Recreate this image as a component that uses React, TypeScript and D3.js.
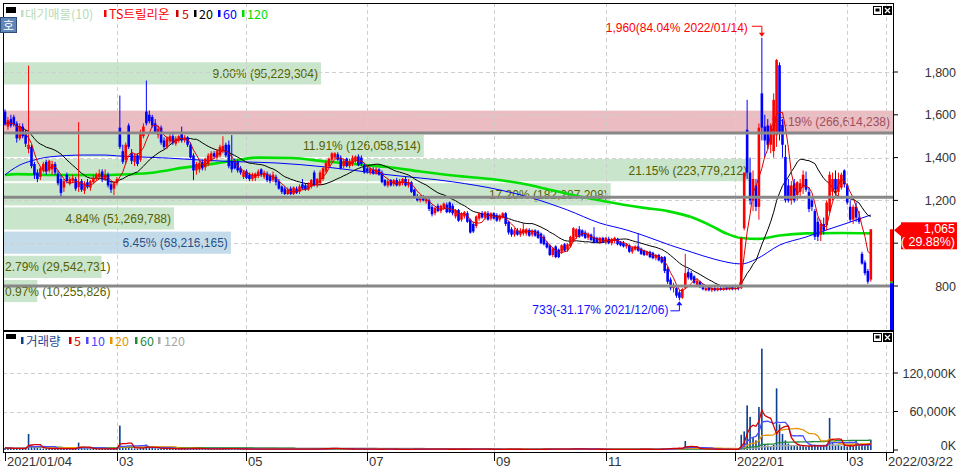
import React from "react";
import * as d3 from "d3";

// [open, high, low, close] per trading day, 2021/01/04 .. 2022/03
const ohlc: [number, number, number, number][] = [
[1615,1625,1550,1555],[1545,1590,1530,1575],[1580,1600,1540,1550],[1590,1600,1545,1555],[1560,1570,1470,1490],
[1490,1560,1480,1545],[1545,1560,1490,1500],[1510,1530,1450,1465],[1440,1830,1420,1460],[1450,1460,1350,1360],
[1370,1380,1300,1320],[1330,1345,1285,1300],[1310,1360,1295,1350],[1340,1380,1330,1370],[1380,1390,1320,1335],
[1340,1390,1330,1385],[1345,1385,1320,1370],[1370,1380,1320,1330],[1325,1340,1270,1280],[1300,1320,1220,1235],
[1260,1300,1240,1290],[1320,1330,1280,1290],[1280,1310,1270,1300],[1290,1320,1280,1305],[1300,1310,1245,1255],
[1262,1566,1240,1285],[1290,1300,1240,1250],[1245,1290,1230,1280],[1285,1300,1255,1262],[1260,1295,1245,1290],
[1285,1320,1280,1305],[1300,1330,1290,1320],[1310,1345,1300,1325],[1335,1345,1285,1300],[1300,1345,1290,1320],
[1320,1330,1260,1270],[1275,1290,1235,1250],[1255,1290,1225,1280],[1280,1310,1270,1300],[1540,1690,1440,1450],
[1430,1460,1370,1380],[1390,1470,1370,1460],[1550,1560,1440,1450],[1420,1440,1370,1385],[1380,1420,1360,1410],
[1410,1420,1360,1370],[1390,1530,1380,1520],[1500,1560,1490,1545],[1615,1760,1550,1560],[1600,1620,1560,1570],
[1590,1600,1540,1550],[1560,1580,1510,1520],[1505,1550,1490,1535],[1540,1550,1460,1470],[1480,1495,1440,1450],
[1450,1500,1440,1490],[1475,1510,1465,1500],[1500,1520,1460,1470],[1465,1500,1455,1490],[1480,1505,1470,1500],
[1520,1545,1470,1480],[1480,1505,1470,1495],[1495,1500,1450,1460],[1460,1470,1395,1400],[1410,1420,1295,1340],
[1340,1380,1320,1370],[1345,1390,1330,1375],[1380,1390,1340,1350],[1355,1400,1340,1395],[1370,1420,1360,1410],
[1390,1430,1380,1420],[1420,1430,1395,1405],[1400,1440,1390,1430],[1410,1460,1400,1450],[1430,1500,1420,1455],
[1460,1470,1400,1410],[1460,1480,1350,1360],[1380,1505,1330,1345],[1385,1395,1345,1350],[1380,1390,1330,1340],
[1350,1360,1320,1330],[1310,1340,1300,1335],[1335,1345,1300,1305],[1320,1330,1290,1300],[1300,1330,1290,1320],
[1305,1330,1290,1325],[1315,1345,1305,1335],[1345,1350,1310,1320],[1310,1340,1300,1330],[1325,1335,1285,1295],
[1315,1325,1280,1290],[1295,1335,1285,1320],[1310,1320,1270,1285],[1290,1300,1250,1255],[1265,1270,1230,1240],
[1255,1265,1225,1230],[1230,1260,1225,1250],[1255,1265,1225,1230],[1230,1265,1225,1260],[1255,1265,1230,1235],
[1240,1275,1230,1265],[1275,1300,1250,1255],[1270,1280,1245,1250],[1250,1285,1245,1275],[1265,1300,1255,1295],
[1330,1340,1265,1275],[1270,1305,1260,1300],[1280,1340,1270,1330],[1300,1355,1290,1350],[1335,1385,1325,1375],
[1360,1400,1350,1395],[1390,1425,1380,1420],[1400,1425,1395,1420],[1415,1425,1385,1390],[1400,1410,1345,1350],
[1360,1395,1350,1385],[1395,1400,1355,1360],[1360,1395,1350,1385],[1370,1410,1360,1400],[1385,1410,1375,1405],
[1405,1415,1360,1365],[1400,1410,1360,1370],[1365,1375,1325,1330],[1350,1360,1325,1335],[1330,1355,1320,1350],
[1345,1355,1320,1325],[1325,1355,1320,1345],[1345,1350,1315,1320],[1330,1340,1280,1285],[1295,1300,1265,1270],
[1270,1300,1260,1290],[1295,1300,1265,1270],[1275,1300,1265,1295],[1295,1305,1265,1270],[1270,1300,1265,1290],
[1280,1305,1270,1300],[1300,1310,1265,1270],[1270,1300,1260,1285],[1285,1290,1235,1240],[1250,1255,1210,1215],
[1220,1230,1195,1200],[1200,1225,1190,1215],[1215,1225,1195,1200],[1195,1215,1185,1205],[1200,1210,1150,1160],
[1170,1180,1125,1135],[1140,1170,1130,1165],[1175,1185,1145,1150],[1150,1180,1140,1175],[1160,1190,1155,1185],
[1180,1190,1140,1145],[1190,1195,1140,1145],[1175,1185,1130,1140],[1125,1160,1115,1155],[1155,1160,1100,1105],
[1110,1145,1100,1140],[1125,1150,1115,1145],[1140,1150,1095,1100],[1110,1115,1045,1050],[1090,1100,1048,1055],
[1080,1130,1070,1125],[1115,1145,1105,1140],[1140,1150,1115,1120],[1120,1150,1110,1145],[1140,1150,1105,1110],
[1115,1145,1105,1140],[1140,1145,1110,1115],[1130,1140,1100,1105],[1110,1135,1100,1130],[1120,1145,1115,1140],
[1140,1145,1080,1090],[1100,1105,1040,1050],[1065,1075,1030,1040],[1040,1070,1030,1060],[1060,1070,1035,1040],
[1040,1070,1030,1060],[1045,1095,1035,1065],[1045,1070,1035,1065],[1062,1070,1030,1035],[1040,1065,1030,1060],
[1060,1065,1030,1035],[1055,1062,1020,1025],[1045,1050,995,1000],[1030,1040,990,995],[1000,1010,975,980],
[990,995,940,945],[945,980,935,975],[985,990,930,935],[970,975,930,935],[960,995,950,990],
[995,1000,960,965],[970,1000,960,995],[985,1035,980,1030],[1010,1075,1005,1070],[1030,1070,1020,1065],
[1065,1080,1025,1030],[1060,1065,1030,1035],[1050,1060,1020,1025],[1025,1050,1015,1045],[1040,1045,1010,1015],
[1030,1075,1000,1005],[1025,1030,1000,1005],[1005,1030,995,1025],[1025,1030,1000,1005],[1005,1030,995,1025],
[1020,1030,995,1000],[1000,1025,990,1020],[1010,1030,1000,1025],[1020,1025,990,995],[1005,1010,985,990],
[1000,1010,980,985],[985,1000,975,995],[990,995,955,960],[960,985,950,980],[970,990,965,985],
[985,1045,960,965],[975,980,945,950],[965,970,940,945],[945,965,940,960],[960,965,930,935],
[955,960,925,930],[930,950,920,945],[945,950,915,920],[935,940,905,910],[935,940,860,870],
[880,890,810,820],[830,840,780,790],[790,815,770,800],[790,800,745,755],[770,780,733,745],
[745,790,740,785],[790,950,785,860],[865,880,830,840],[860,870,825,830],[845,850,810,815],
[805,835,800,825],[820,825,790,795],[800,810,780,785],[780,800,775,790],[795,800,775,780],
[780,795,772,790],[790,795,775,780],[780,795,775,790],[790,795,778,782],[782,795,778,790],
[792,798,780,785],[785,800,780,792],[795,805,780,785],[785,800,780,790],[795,800,780,788],
[790,1030,785,1024],[1070,1330,1060,1330],[1530,1670,1300,1330],[1330,1400,1180,1200],[1200,1340,1150,1300],
[1270,1300,1150,1170],[1170,1560,1110,1540],[1700,1960,1480,1540],[1545,1600,1400,1480],[1550,1580,1440,1460],
[1460,1560,1420,1550],[1430,1700,1400,1670],[1505,1860,1450,1856],[1832,1845,1480,1520],[1552,1580,1400,1460],
[1403,1460,1190,1200],[1270,1300,1190,1200],[1200,1290,1180,1270],[1280,1300,1190,1200],[1225,1290,1200,1285],
[1240,1300,1220,1280],[1260,1340,1230,1320],[1300,1335,1240,1250],[1240,1260,1145,1160],[1200,1220,1150,1170],
[1150,1160,1015,1030],[1100,1120,1010,1030],[1040,1110,1010,1090],[1090,1120,1040,1060],[1085,1200,1060,1190],
[1150,1335,1140,1320],[1240,1330,1200,1300],[1300,1340,1230,1250],[1240,1330,1220,1300],[1260,1330,1250,1320],
[1340,1345,1260,1275],[1270,1280,1180,1190],[1170,1200,1100,1110],[1110,1180,1090,1170],[1170,1190,1100,1120],
[1120,1150,1090,1100],[950,960,900,905],[910,920,850,860],[870,880,810,820],[830,1065,820,1065],
];

// daily volume, in thousands of shares
const volumes: number[] = [
3200,2700,2400,2100,2900,2000,2300,2600,25000,7000,4500,3300,2600,2300,2100,1900,2400,2000,2700,2200,
1900,1800,1700,2300,2000,11500,4200,2600,2100,1900,1800,1700,1600,1900,1700,1800,2000,2200,2400,38000,
4500,3000,5500,2800,2400,2200,4200,3500,8000,3800,3000,2600,2300,2800,2400,2100,1900,2000,1800,1700,
2200,1800,1900,2500,3200,2100,1900,1700,1800,1900,1700,1600,1800,2000,2600,2100,2300,2400,1700,1600,
1500,1400,1500,1300,1400,1300,1500,1400,1300,1400,1500,1300,1400,1600,1700,1500,1300,1400,1200,1300,
1200,1400,1300,1200,1500,1900,1600,1800,2000,2300,2600,2800,2200,2000,1800,1600,1500,1400,1600,1500,
1400,1300,1500,1200,1100,1200,1100,1000,1600,1400,1200,1100,1000,1100,1000,1100,1000,900,1500,1600,
1400,1100,1000,1000,1600,1700,1300,1200,1100,1200,1300,1200,1100,1200,1400,1100,1000,1200,1900,1500,
1600,1300,1100,1200,1000,1100,1000,1000,900,1000,1300,1600,1200,1000,900,1000,1400,1000,900,900,
900,1100,1500,1300,1200,1600,1400,1500,1300,1200,1100,1300,1900,2600,1700,1900,1400,1200,1100,1300,
1500,1100,1000,1000,900,1000,900,900,1000,1000,1100,900,1200,1000,1100,1400,1100,1200,1000,1100,
1200,1000,1100,1300,2200,2800,3000,2200,2400,3300,2800,14000,4200,3000,2500,2000,1800,1600,1400,1300,
1200,1100,1000,1100,1000,900,1000,900,1000,1100,23700,29000,69500,51600,20000,15000,67000,158000,9000,7000,
6000,8000,96000,40000,25000,15000,10000,8000,7000,6000,7000,6500,5000,6000,7000,8000,6000,5500,6000,9000,
50000,12000,7000,8000,6000,7000,5000,7000,6000,14500,6000,9000,7000,8000,16000,
];

// 60-day and 120-day price averages: [day index, price]
const ma60Samples: [number, number][] = [
[0,1319],[2,1340],[5,1365],[9,1385],[15,1403],[27,1412],[34,1412],[38,1408],[46,1403],[55,1398],
[66,1389],[76,1382],[92,1375],[109,1356],[130,1320],[152,1287],[168,1249],[179,1211],[191,1155],[202,1094],
[211,1062],[216,1040],[226,990],[233,959],[241,925],[250,903],[255,925],[263,991],[272,1029],[279,1062],
[286,1094],[294,1132],
];
const ma120Samples: [number, number][] = [
[0,1319],[4,1323],[15,1319],[32,1318],[38,1320],[49,1328],[55,1340],[60,1352],[66,1362],[76,1382],
[86,1400],[97,1398],[109,1382],[120,1368],[130,1356],[141,1335],[153,1315],[165,1300],[175,1280],[185,1250],
[192,1228],[200,1205],[210,1180],[217,1165],[225,1150],[233,1122],[240,1080],[245,1045],[250,1024],[256,1020],
[263,1036],[272,1046],[284,1048],[294,1046],
];

// price-volume profile (대기매물)
const bandLow = [1737, 1511, 1398, 1285, 1172, 1059, 946, 833, 720];
const bandPct = [9.0, 25.19, 11.91, 21.15, 17.2, 4.84, 6.45, 2.79, 0.97];
const bandAmt = [95229304, 266614238, 126058514, 223779212, 182287208, 51269788, 68216165, 29542731, 10255826];
const bandStep = 113;

const levelLines = [1515, 1215, 800];
const priceTicks = [800, 1000, 1200, 1400, 1600, 1800];
const priceLabels = [800, 1200, 1400, 1600, 1800];
const volumeTicks = [0, 60000, 120000];
const dateTicks = [0, 38, 82, 123, 166, 204, 248, 286, 299];
const dateLabels = ["2021/01/04", "03", "05", "07", "09", "11", "2022/01", "03", "2022/03/22"];

const highMark = { i: 257, price: 1960, text: "1,960(84.04% 2022/01/14)" };
const lowMark = { i: 229, price: 733, text: "733(-31.17% 2021/12/06)" };
const lastPrice = 1065;
const prevClose = 820;
const changeText = "( 29.88%)";

const NUM = "'Liberation Sans', Arial, sans-serif";
const KR = "'Noto Sans CJK KR', 'Noto Sans', sans-serif";

function movingAvg(arr: number[], n: number) {
  return arr.map((_, i) => {
    const s = arr.slice(Math.max(0, i - n + 1), i + 1);
    return d3.mean(s) as number;
  });
}

export default function App() {
  const L = 3, R = 893, T = 3, MB = 330, VT = 331, VB = 452;
  const x = d3.scaleLinear().domain([0, 299]).range([5, 5 + 299 * 2.945]);
  const y = d3.scaleLinear().domain([800, 1800]).range([286, 72]);
  const v = d3.scaleLinear().domain([0, 120000]).range([450, 373]);
  const bw = d3.scaleLinear().domain([0, d3.max(bandPct) as number]).range([0, R - L]);
  const closes = ohlc.map((d) => d[3]);
  const ma5 = movingAvg(closes, 5);
  const ma20 = movingAvg(closes, 20);
  const line = d3.line<number>().x((_, i) => x(i)).y((d) => y(d));
  const sampleLine = d3.line<[number, number]>().x((d) => x(d[0])).y((d) => y(d[1])).curve(d3.curveMonotoneX);
  const vLine = d3.line<number>().x((_, i) => x(i)).y((d) => v(d));
  const volMAs = [
    { n: 5, c: "#d40000" },
    { n: 10, c: "#4a4aff" },
    { n: 20, c: "#e39400" },
    { n: 60, c: "#228b3b" },
    { n: 120, c: "#a8a8a8" },
  ];
  const maxBand = bandPct.indexOf(d3.max(bandPct) as number);
  const blueBand = 6;
  const fmt = d3.format(",");

  const hx = x(highMark.i), hy = y(highMark.price);
  const lx = x(lowMark.i), ly = y(lowMark.price);
  const py = y(lastPrice);

  const icons = (ty: number) => (
    <g>
      <rect x={873.5} y={ty + 0.5} width={8} height={8} fill="#fff" stroke="#000" />
      <rect x={875.5} y={ty + 2.5} width={4} height={3} fill="#000" />
      <rect x={883} y={ty} width={9} height={9} fill="#000" />
      <path d={`M${885},${ty + 2} L${890},${ty + 7} M${890},${ty + 2} L${885},${ty + 7}`} stroke="#fff" strokeWidth={1.3} />
    </g>
  );

  return (
    <svg width={959} height={469} style={{ position: "fixed", left: 0, top: 0, background: "#fff" }}>
      <rect x={0} y={0} width={959} height={469} fill="#fff" />
      <defs>
        <clipPath id="mainClip"><rect x={L} y={T} width={R - L} height={MB - T} /></clipPath>
        <clipPath id="volClip"><rect x={L} y={VT} width={R - L} height={VB - VT} /></clipPath>
      </defs>

      {/* volume-profile bands */}
      <g clipPath="url(#mainClip)">
        {bandLow.map((lo, k) => {
          const y0 = y(lo + bandStep) + 1;
          const y1 = y(lo) - 1;
          const w = bw(bandPct[k]);
          const fill = k === maxBand ? "#ebbcc1" : k === blueBand ? "#c4dcea" : "#c9e5cb";
          const tc = k === maxBand ? "#a0505c" : k === blueBand ? "#1f4f8a" : "#556000";
          const label = `${bandPct[k].toFixed(2)}% (${fmt(bandAmt[k])})`;
          const tw = label.length * 6.1;
          const fits = tw + 6 < w;
          return (
            <g key={k}>
              <rect x={L} y={y0} width={w} height={y1 - y0} fill={fill} />
              <text x={fits ? L + w - 3 : 5} y={(y0 + y1) / 2 + 4.5} textAnchor={fits ? "end" : "start"}
                fontFamily={NUM} fontSize={12} fill={tc}>{label}</text>
            </g>
          );
        })}
      </g>

      {/* grid */}
      <g stroke="#cfcfcf" strokeDasharray="4,3" strokeWidth={1}>
        {priceTicks.map((p) => <line key={p} x1={L} x2={R} y1={Math.round(y(p)) + 0.5} y2={Math.round(y(p)) + 0.5} />)}
        {dateTicks.slice(1).map((t) => <line key={t} x1={Math.round(x(t)) + 0.5} x2={Math.round(x(t)) + 0.5} y1={T} y2={MB} />)}
        {volumeTicks.slice(1).map((t) => <line key={t} x1={L} x2={R} y1={Math.round(v(t)) + 0.5} y2={Math.round(v(t)) + 0.5} />)}
        {dateTicks.slice(1).map((t) => <line key={"v" + t} x1={Math.round(x(t)) + 0.5} x2={Math.round(x(t)) + 0.5} y1={VT} y2={VB} />)}
      </g>

      {/* price panel */}
      <g clipPath="url(#mainClip)">
        <path d={sampleLine(ma120Samples) || ""} fill="none" stroke="#00e000" strokeWidth={2.6} />
        <path d={sampleLine(ma60Samples) || ""} fill="none" stroke="#0000ff" strokeWidth={1} />
        <path d={line(ma20) || ""} fill="none" stroke="#000" strokeWidth={1} />
        {ohlc.map(([o, h, l, c], i) => {
          const up = c >= o;
          const col = up ? "#ff0000" : "#0000ff";
          const cx = x(i);
          const top = Math.min(y(o), y(c));
          const bh = Math.max(1, Math.abs(y(o) - y(c)));
          return (
            <g key={i}>
              <line x1={cx} x2={cx} y1={y(h)} y2={y(l)} stroke={col} strokeWidth={1} />
              <rect x={cx - 1.3} y={top} width={2.6} height={bh} fill={col} />
            </g>
          );
        })}
        <path d={line(ma5) || ""} fill="none" stroke="#d80000" strokeWidth={1} />
        {levelLines.map((p) => (
          <line key={p} x1={L} x2={R} y1={y(p)} y2={y(p)} stroke="#888" strokeWidth={3} />
        ))}
        {/* right edge bar */}
        <rect x={890} y={py} width={3} height={y(prevClose) - py} fill="#ff0000" />
        <rect x={890} y={y(prevClose)} width={3} height={1.5} fill="#00c000" />
        <rect x={890} y={y(prevClose) + 1.5} width={3} height={MB - y(prevClose)} fill="#0000ff" />
      </g>

      {/* annotations */}
      <g fontFamily={NUM} fontSize={12}>
        <text x={hx - 14} y={hy - 6} textAnchor="end" fill="#ff0000">{highMark.text}</text>
        <path d={`M${hx - 10},${hy - 11.5} H${hx} V${hy - 3}`} fill="none" stroke="#ff0000" strokeWidth={1} />
        <path d={`M${hx - 3},${hy - 5} L${hx + 3},${hy - 5} L${hx},${hy - 1} Z`} fill="#ff0000" />
        <text x={lx - 11} y={ly + 14} textAnchor="end" fill="#1010ff">{lowMark.text}</text>
        <path d={`M${lx - 9},${ly + 10.5} H${lx} V${ly + 2}`} fill="none" stroke="#1010ff" strokeWidth={1} />
        <path d={`M${lx - 3},${ly + 5} L${lx + 3},${ly + 5} L${lx},${ly + 1} Z`} fill="#1010ff" />
      </g>

      {/* volume panel */}
      <g clipPath="url(#volClip)">
        {volumes.map((d, i) => (
          <rect key={i} x={x(i) - 0.8} y={v(d)} width={1.6} height={Math.max(0.6, v(0) - v(d))} fill="#0c3f8c" />
        ))}
        {volMAs.slice().reverse().map((m) => (
          <path key={m.n} d={vLine(movingAvg(volumes, m.n)) || ""} fill="none" stroke={m.c} strokeWidth={1.3} />
        ))}
      </g>

      {/* frames */}
      <rect x={L + 0.5} y={T + 0.5} width={R - L} height={MB - T} fill="none" stroke="#000" strokeWidth={1} />
      <rect x={L + 0.5} y={VT + 0.5} width={R - L} height={VB - VT} fill="none" stroke="#000" strokeWidth={1} />

      {/* right axis */}
      <g fontFamily={NUM} fontSize={12.5} fill="#333">
        {priceTicks.map((p) => (
          <line key={p} x1={R} x2={R + 5} y1={y(p)} y2={y(p)} stroke="#000" />
        ))}
        {priceLabels.map((p) => (
          <text key={p} x={956} y={y(p) + 4.5} textAnchor="end">{fmt(p)}</text>
        ))}
        {volumeTicks.map((t) => (
          <line key={t} x1={R} x2={R + 5} y1={v(t)} y2={v(t)} stroke="#000" />
        ))}
        {volumeTicks.map((t) => (
          <text key={"l" + t} x={956} y={t === 0 ? 450 : v(t) + 4.5} textAnchor="end">{fmt(t)}K</text>
        ))}
      </g>

      {/* current price box */}
      <path d={`M${R + 1},${py + 1} L${901},${py - 5} L${901},${py + 7} Z`} fill="#ff0000" />
      <rect x={901} y={py - 7} width={56} height={27} fill="#ff0000" />
      <text x={955} y={py + 4} textAnchor="end" fontFamily={NUM} fontSize={12.5} fill="#fff">{fmt(lastPrice)}</text>
      <text x={955} y={py + 17} textAnchor="end" fontFamily={NUM} fontSize={12.5} fill="#fff">{changeText}</text>

      {/* date axis */}
      <g fontFamily={NUM} fontSize={13} fill="#333">
        {dateTicks.map((t, k) => (
          <g key={t}>
            <line x1={Math.round(x(t)) + 0.5} x2={Math.round(x(t)) + 0.5} y1={VB + 1} y2={VB + 9} stroke="#000" />
            <text x={Math.round(x(t)) + 2} y={466}>{dateLabels[k]}</text>
          </g>
        ))}
      </g>

      {/* legends */}
      <rect x={6} y={7} width={10} height={6} fill="#000" />
      <g fontFamily={KR} fontSize={12.5}>
        <rect x={21} y={10} width={2.5} height={7} fill="#c0e0c0" />
        <text x={25} y={18.5} fill="#b8dcb8">대기매물(10)</text>
        <rect x={104} y={10} width={2.5} height={7} fill="#ff0000" />
        <text x={109} y={18.5} fill="#ff0000">TS트릴리온</text>
        <rect x={176} y={10} width={2.5} height={7} fill="#d00000" />
        <text x={182} y={18.5} fill="#d00000">5</text>
        <rect x={194} y={10} width={2.5} height={7} fill="#000" />
        <text x={199} y={18.5} fill="#000">20</text>
        <rect x={218} y={10} width={2.5} height={7} fill="#0000ff" />
        <text x={223} y={18.5} fill="#0000ff">60</text>
        <rect x={242} y={10} width={2.5} height={7} fill="#00dd00" />
        <text x={247} y={18.5} fill="#00dd00">120</text>
      </g>
      <rect x={6} y={334} width={10} height={5} fill="#000" />
      <g fontFamily={KR} fontSize={12.5}>
        <rect x={21} y={337} width={2.5} height={7} fill="#0c3f8c" />
        <text x={26} y={345.5} fill="#1f4a96">거래량</text>
        <rect x={69} y={337} width={2.5} height={7} fill="#d40000" />
        <text x={74} y={345.5} fill="#d40000">5</text>
        <rect x={86} y={337} width={2.5} height={7} fill="#4a4aff" />
        <text x={91} y={345.5} fill="#4a4aff">10</text>
        <rect x={110} y={337} width={2.5} height={7} fill="#e39400" />
        <text x={115} y={345.5} fill="#e39400">20</text>
        <rect x={135} y={337} width={2.5} height={7} fill="#228b3b" />
        <text x={140} y={345.5} fill="#228b3b">60</text>
        <rect x={158} y={337} width={2.5} height={7} fill="#a8a8a8" />
        <text x={164} y={345.5} fill="#a8a8a8">120</text>
      </g>

      {icons(6)}
      {icons(333)}

      {/* 호 button */}
      <rect x={0.5} y={17.5} width={16} height={15} fill="#5f86b8" stroke="#2f4f7a" />
      <text x={8.5} y={29.5} textAnchor="middle" fontFamily={KR} fontSize={12} fill="#fff">호</text>
    </svg>
  );
}
